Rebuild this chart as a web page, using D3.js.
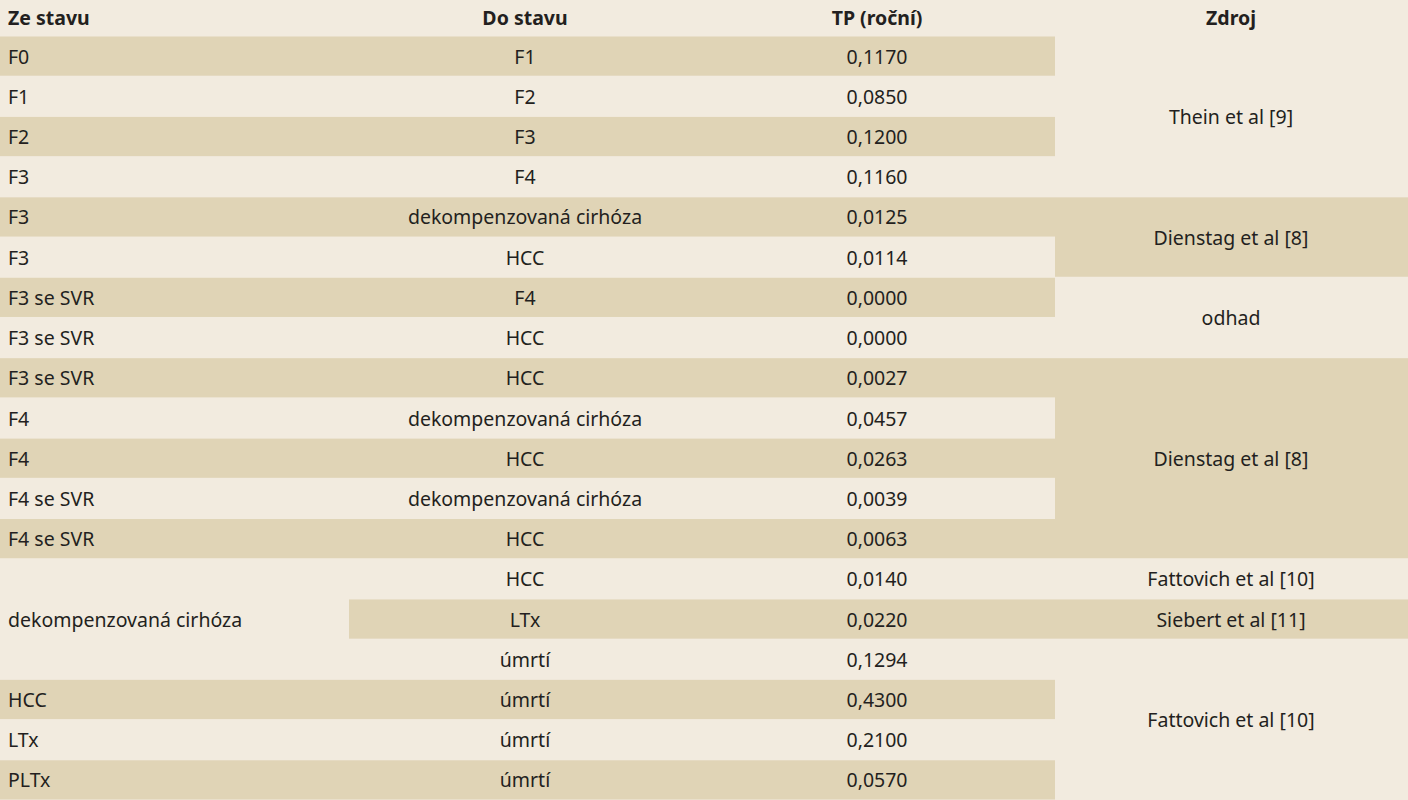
<!DOCTYPE html>
<html><head><meta charset="utf-8">
<script src="https://cdn.jsdelivr.net/npm/d3@7"></script>
<style>body{margin:0;background:#f2ebdf}</style></head>
<body><svg id="c" width="1408" height="800"></svg>
<script>
const headers = ["Ze stavu","Do stavu","TP (roční)","Zdroj"];
const fromStates = ["F0","F1","F2","F3","F3","F3","F3 se SVR","F3 se SVR","F3 se SVR","F4","F4","F4 se SVR","F4 se SVR","","dekompenzovaná cirhóza","","HCC","LTx","PLTx"];
const toStates = ["F1","F2","F3","F4","dekompenzovaná cirhóza","HCC","F4","HCC","HCC","dekompenzovaná cirhóza","HCC","dekompenzovaná cirhóza","HCC","HCC","LTx","úmrtí","úmrtí","úmrtí","úmrtí"];
const tpValues = ["0,1170","0,0850","0,1200","0,1160","0,0125","0,0114","0,0000","0,0000","0,0027","0,0457","0,0263","0,0039","0,0063","0,0140","0,0220","0,1294","0,4300","0,2100","0,0570"];
// sources: [label, startRow, endRow, dark]
const sources = [["Thein et al [9]",0,3,false],["Dienstag et al [8]",4,5,true],["odhad",6,7,false],["Dienstag et al [8]",8,12,true],["Fattovich et al [10]",13,13,false],["Siebert et al [11]",14,14,true],["Fattovich et al [10]",15,18,false]];

const light="#f2ebdf", dark="#e0d4b6", ink="#231f20";
const svg=d3.select("#c");
const y=d3.scaleLinear().domain([0,19]).range([36,800]);
const colX=[0,349,703,1055,1408];
const font="'Noto Sans', sans-serif";
svg.append("rect").attr("width",1408).attr("height",800).attr("fill",light);
const rows=d3.range(19);
// col1-3 row shading
rows.forEach(i=>{
  if(i%2===0 && i!==14){
    svg.append("rect").attr("x",0).attr("y",y(i)+0.5).attr("width",colX[3]).attr("height",y(i+1)-y(i)-1).attr("fill",dark);
  }
});
sources.forEach(s=>{ if(s[3]) svg.append("rect").attr("x",s[1]===14?colX[1]:colX[3]).attr("y",y(s[1])+0.5).attr("width",s[1]===14?1408-colX[1]:1408-colX[3]).attr("height",y(s[2]+1)-y(s[1])-1).attr("fill",dark);});
const txt=(x,yy,t,anchor,bold)=>svg.append("text").attr("x",x).attr("y",yy).attr("text-anchor",anchor).attr("dominant-baseline","central")
  .attr("font-family",font).attr("font-size",19.5).attr("font-weight",bold?"bold":"normal").attr("fill",ink).text(t);
const hx=[8,525,877,1231];
headers.forEach((h,i)=>txt(hx[i],17,h,i===0?"start":"middle",true));
rows.forEach(i=>{
  const cy=(y(i)+y(i+1))/2;
  if(fromStates[i]) txt(8,cy,fromStates[i],"start");
  txt(525,cy,toStates[i],"middle");
  txt(877,cy,tpValues[i],"middle");
});
sources.forEach(s=>txt(1231,(y(s[1])+y(s[2]+1))/2,s[0],"middle"));
</script></body></html>
